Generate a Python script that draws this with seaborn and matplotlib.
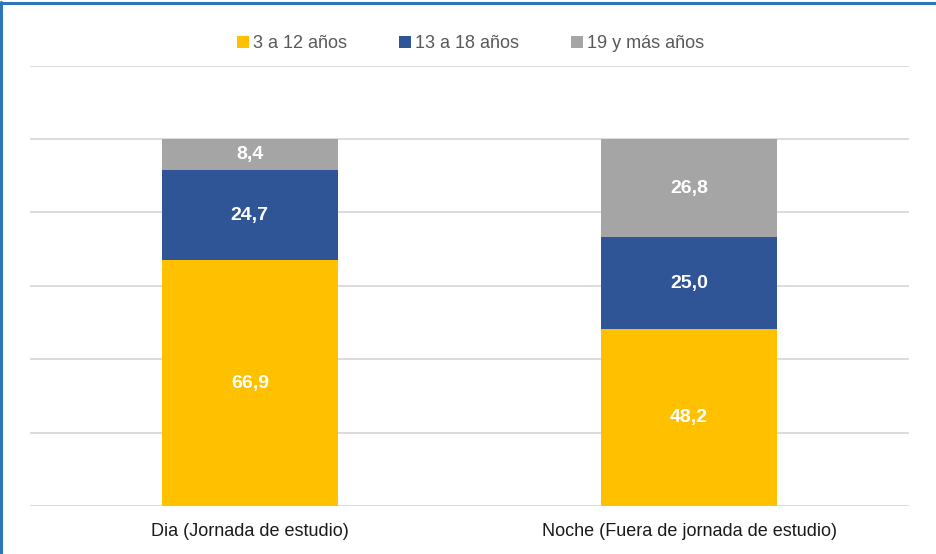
import matplotlib
matplotlib.use("Agg")
import matplotlib.pyplot as plt
from matplotlib.patches import Patch
from matplotlib.lines import Line2D
import seaborn as sns
import pandas as pd
import numpy as np

# Distribution by age group (%)
categories = ["Dia (Jornada de estudio)", "Noche (Fuera de jornada de estudio)"]
series_names = ["3 a 12 años", "13 a 18 años", "19 y más años"]
age_3_12 = [66.9, 48.2]
age_13_18 = [24.7, 25.0]
age_19_plus = [8.4, 26.8]
colors = ["#FFC000", "#2F5597", "#A5A5A5"]

sns.set_theme(style="white")
plt.rcParams["font.family"] = ["Liberation Sans Narrow", "Liberation Sans", "DejaVu Sans"]

fig = plt.figure(figsize=(9.36, 5.54), dpi=100)
ax = fig.add_axes([30 / 936, 48 / 554, 879 / 936, (506 - 65.6) / 554])

values = [age_3_12, age_13_18, age_19_plus]
bottoms = np.zeros(len(categories))
for name, vals, col in zip(series_names, values, colors):
    df = pd.DataFrame({"cat": categories, "val": vals})
    sns.barplot(data=df, x="cat", y="val", color=col, width=0.4,
                bottom=bottoms.copy(), ax=ax, saturation=1, linewidth=0,
                zorder=3)
    for i, v in enumerate(vals):
        ax.text(i, bottoms[i] + v / 2, f"{v:.1f}".replace(".", ","),
                ha="center", va="center", color="white",
                fontsize=14, fontweight="bold", zorder=4)
    bottoms += np.array(vals)

ax.set_ylim(0, 120)
ax.set_xlim(-0.5, 1.5)
ax.set_yticks(np.arange(0, 121, 20))
ax.yaxis.grid(True, color="#D9D9D9", linewidth=1.3, zorder=0)
ax.set_yticklabels([])
ax.tick_params(axis="y", length=0)
ax.tick_params(axis="x", length=0, labelsize=13, labelcolor="#1a1a1a", pad=12)
ax.set_xlabel("")
ax.set_ylabel("")
for s in ax.spines.values():
    s.set_visible(False)

handles = [Patch(facecolor=c, edgecolor="none") for c in colors]
fig.legend(handles, series_names, loc="center", bbox_to_anchor=(0.503, 0.921),
           ncol=3, frameon=False, fontsize=13, handlelength=0.62,
           handleheight=0.65, handletextpad=0.25, columnspacing=2.9,
           labelcolor="#595959")

# Blue frame along the top and left edges
fig.add_artist(Line2D([0.0015, 0.0015], [0, 0.997], transform=fig.transFigure,
                      color="#2E75B6", linewidth=2.2))
fig.add_artist(Line2D([0, 1], [0.995, 0.995], transform=fig.transFigure,
                      color="#2E75B6", linewidth=2.2))

fig.savefig("out.png", dpi=100)
